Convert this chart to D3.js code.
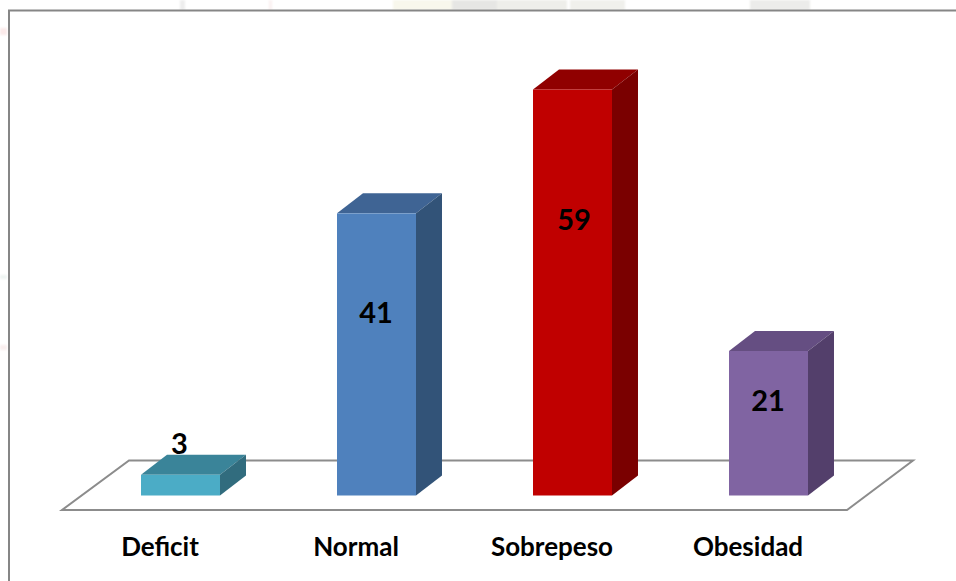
<!DOCTYPE html>
<html>
<head>
<meta charset="utf-8">
<script src="https://cdn.jsdelivr.net/npm/d3@7/dist/d3.min.js"></script>
<style>
  html, body { margin: 0; padding: 0; background: #fff; }
  svg { display: block; }
  text { font-family: Lato, "Open Sans", sans-serif; font-weight: 700; fill: #000; }
</style>
</head>
<body>
<svg id="chart" width="956" height="581"></svg>
<script>
// Body-mass categories and their counts
const categories = ["Deficit", "Normal", "Sobrepeso", "Obesidad"];
const counts = [3, 41, 59, 21];
const frontColors = ["#4BACC6", "#4F81BD", "#C00000", "#8064A2"];
const topColors = ["#3A8499", "#3F6494", "#900000", "#654E82"];
const sideColors = ["#316C7E", "#325378", "#7A0000", "#533F6B"];

const svg = d3.select("#chart");

const x = d3.scaleBand().domain(categories).range([82.5, 866.5]).paddingInner(0.597).paddingOuter(0.2985);
const y = d3.scaleLinear().domain([0, 59]).range([495.5, 89.5]);

// Oblique offset used for the depth of the bars and floor
const depthX = 26, depthY = -20;

const pts = a => a.map(p => p.join(",")).join(" ");

// Faded slide backdrop showing around the chart frame
const defs = svg.append("defs");
defs.append("filter").attr("id", "soft").append("feGaussianBlur").attr("stdDeviation", 1.2);
const backdrop = svg.append("g").attr("filter", "url(#soft)");
[
  [180, 0, 5, 10, "#ededed"], [269, 0, 3, 10, "#faf0f0"], [393, 0, 60, 10, "#f8f7ec"],
  [452, 0, 45, 10, "#e6e6e4"], [497, 0, 70, 10, "#eeeeea"], [570, 0, 55, 10, "#f0f0ec"],
  [750, 0, 60, 10, "#ececea"], [0, 28, 7, 7, "#fbeaea"], [0, 275, 7, 4, "#eef4f2"],
  [0, 345, 7, 5, "#f9eeee"]
].forEach(([px, py, w, h, fill]) => {
  backdrop.append("rect").attr("x", px).attr("y", py).attr("width", w).attr("height", h).attr("fill", fill);
});

// Chart frame
svg.append("rect")
  .attr("x", 9).attr("y", 10.5)
  .attr("width", 960).attr("height", 590)
  .attr("fill", "#fff").attr("stroke", "#868686").attr("stroke-width", 2);

// Floor parallelogram
svg.append("polygon")
  .attr("points", pts([[62, 510], [847, 510], [913, 460.5], [129, 460.5]]))
  .attr("fill", "#fff").attr("stroke", "#8c8c8c").attr("stroke-width", 2);

// Bars: front, top and side faces
const bars = svg.selectAll("g.bar").data(categories).join("g").attr("class", "bar");

bars.each(function (c, i) {
  const g = d3.select(this);
  const x0 = x(c), x1 = x0 + x.bandwidth();
  const yTop = y(counts[i]), yBase = y(0);
  g.append("polygon")
    .attr("points", pts([[x0, yTop], [x1, yTop], [x1 + depthX, yTop + depthY], [x0 + depthX, yTop + depthY]]))
    .attr("fill", topColors[i]);
  g.append("polygon")
    .attr("points", pts([[x1, yTop], [x1 + depthX, yTop + depthY], [x1 + depthX, yBase + depthY], [x1, yBase]]))
    .attr("fill", sideColors[i]);
  g.append("rect")
    .attr("x", x0).attr("y", yTop)
    .attr("width", x.bandwidth()).attr("height", yBase - yTop)
    .attr("fill", frontColors[i]);
});

// Value labels: the short bar's label rides on top, the others sit inside the front face
const labelRise = [42, 173, 266, 85];
svg.selectAll("text.value").data(categories).join("text")
  .attr("class", "value")
  .attr("x", (c, i) => x(c) + x.bandwidth() / 2 + (i === 0 ? -1 : i === 2 ? 1.5 : -1.5 + 1))
  .attr("y", (c, i) => y(0) - labelRise[i])
  .attr("text-anchor", "middle")
  .attr("font-size", 29)
  .text((c, i) => counts[i]);

// Category axis labels
svg.selectAll("text.cat").data(categories).join("text")
  .attr("class", "cat")
  .attr("x", c => x(c) + x.bandwidth() / 2 - 20.5)
  .attr("y", 556)
  .attr("text-anchor", "middle")
  .attr("font-size", 26)
  .text(c => c);
</script>
</body>
</html>
